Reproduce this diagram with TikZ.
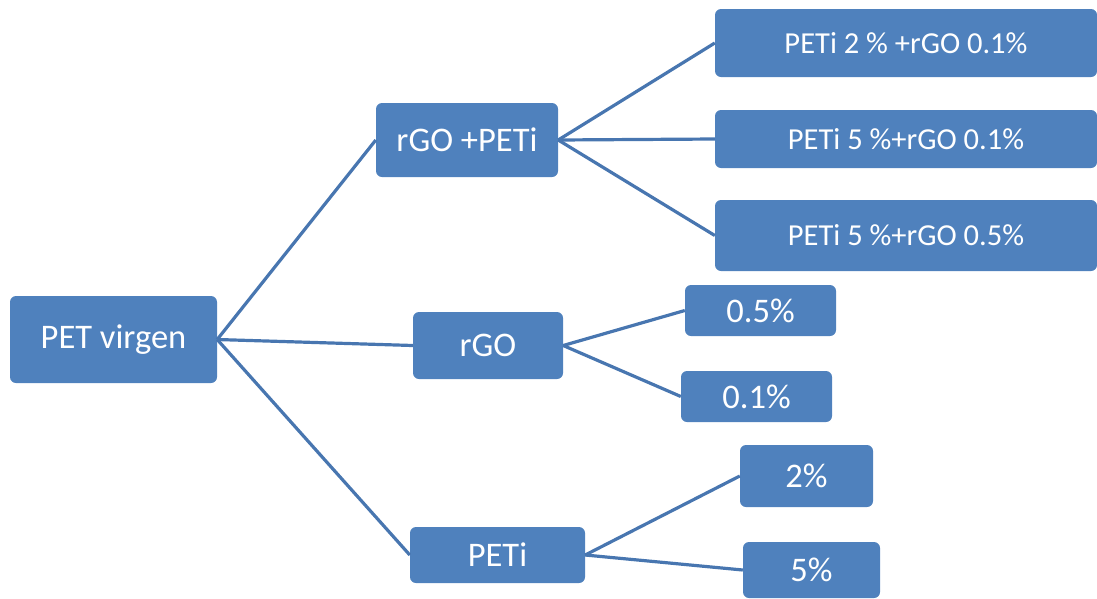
\documentclass[tikz,border=0pt]{standalone}
\usepackage{fontspec}
\setmainfont{Carlito}
\usepackage{xcolor}
\usepackage{tikz}
\usetikzlibrary{positioning}
\definecolor{azulcaja}{RGB}{79,129,189}
\definecolor{azullinea}{RGB}{72,118,176}
\tikzset{
  caja/.style={rectangle,rounded corners=6pt,fill=azulcaja,text=white,
    inner sep=0pt,font=\fontsize{34.5}{40}\selectfont},
  cajamezcla/.style={caja,minimum width=382pt,font=\fontsize{30.5}{36}\selectfont},
  linea/.style={line width=3.2pt,azullinea}
}

\begin{document}
\begin{tikzpicture}[x=1pt,y=-1pt]
\useasboundingbox (0,0) rectangle (1097,598);
% raiz
\node[caja,minimum width=207pt,minimum height=87pt] (pet) at (113.5,339.5) {PET virgen};
% segundo nivel
\node[caja,minimum width=182pt,minimum height=74pt] (rgopeti) at (467,140) {rGO +PETi};
\node[caja,minimum width=150pt,minimum height=67pt] (rgo) at (488,345.5) {rGO};
\node[caja,minimum width=175pt,minimum height=56pt] (peti) at (497.5,555) {PETi};
% mezclas
\node[cajamezcla,minimum height=68pt] (mezcla1) at (906,43) {PETi 2 \% +rGO 0.1\%};
\node[cajamezcla,minimum height=58pt] (mezcla2) at (906,139) {PETi 5 \%+rGO 0.1\%};
\node[cajamezcla,minimum height=71pt] (mezcla3) at (906,235.5) {PETi 5 \%+rGO 0.5\%};
% rGO
\node[caja,minimum width=151pt,minimum height=51pt] (rgo05) at (760.5,310.5) {0.5\%};
\node[caja,minimum width=151pt,minimum height=51pt] (rgo01) at (756.5,396.5) {0.1\%};
% PETi
\node[caja,minimum width=133pt,minimum height=62pt] (peti2) at (806.5,476) {2\%};
\node[caja,minimum width=137pt,minimum height=56pt] (peti5) at (811.5,570) {5\%};
% conexiones
\draw[linea] (pet.east) -- (rgopeti.west);
\draw[linea] (pet.east) -- (rgo.west);
\draw[linea] (pet.east) -- (peti.west);
\draw[linea] (rgopeti.east) -- (mezcla1.west);
\draw[linea] (rgopeti.east) -- (mezcla2.west);
\draw[linea] (rgopeti.east) -- (mezcla3.west);
\draw[linea] (rgo.east) -- (rgo05.west);
\draw[linea] (rgo.east) -- (rgo01.west);
\draw[linea] (peti.east) -- (peti2.west);
\draw[linea] (peti.east) -- (peti5.west);
\end{tikzpicture}
\end{document}
